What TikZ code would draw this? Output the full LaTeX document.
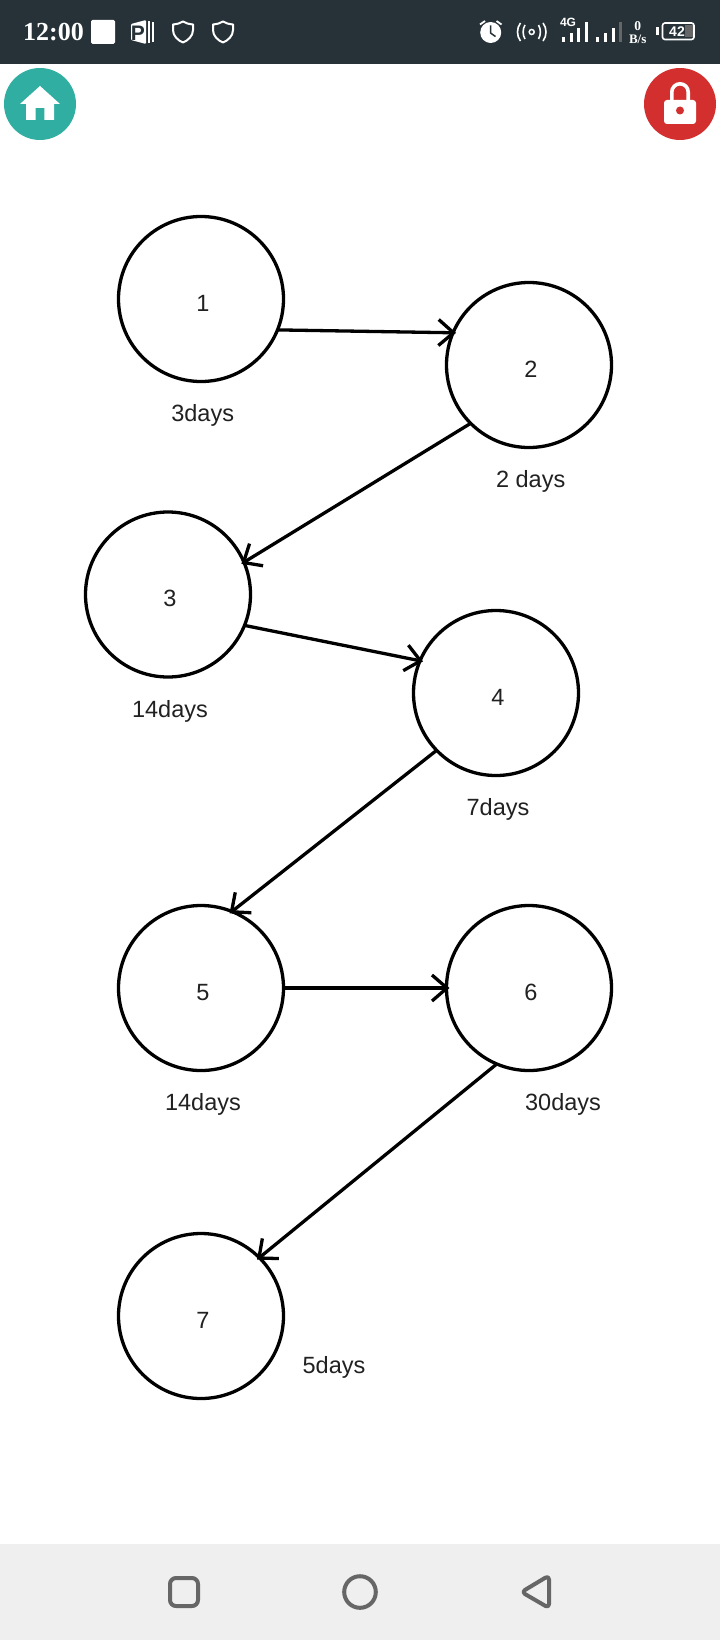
\documentclass[tikz,border=0pt]{standalone}
\usepackage{fontspec}
\usetikzlibrary{arrows.meta}
\setmainfont{Liberation Sans}
\newfontfamily\statusfont{Liberation Serif}
\definecolor{barbg}{HTML}{263238}
\definecolor{navbg}{HTML}{EFEFEF}
\definecolor{navic}{HTML}{666666}
\definecolor{teal}{HTML}{30AEA2}
\definecolor{lockred}{HTML}{D32F2F}
\definecolor{ink}{HTML}{212121}
\newcommand\circtext[1]{\raisebox{-12pt}[0pt][0pt]{\hspace{3.6pt}#1}}
\tikzset{
  x=1pt,y=-1pt,
  phase/.style={circle,draw=black,line width=3.3pt,minimum size=165pt,inner sep=0pt,outer sep=0pt,text=ink,font=\fontsize{23.5}{23.5}\selectfont},
  link/.style={draw=black,line width=3.3pt,shorten >=-3pt,-{Straight Barb[length=15pt,width=26pt,line width=3.3pt]}},
  dur/.style={anchor=base,inner sep=0pt,text=ink,font=\fontsize{23.5}{23.5}\selectfont},
  navicon/.style={draw=navic,line width=4pt,line join=round},
}
\begin{document}
\begin{tikzpicture}
\useasboundingbox (0,0) rectangle (720,1640);
\fill[white] (0,0) rectangle (720,1640);
% status bar
\fill[barbg] (0,0) rectangle (720,64);
\node[anchor=base,inner sep=0pt,text=white,font=\statusfont\bfseries\fontsize{26}{26}\selectfont] (clock) at (53.5,41) {12:00};
\fill[white,rounded corners=1.5pt] (91,20) rectangle (115,44);
% P icon
\fill[white,rounded corners=1pt] (131,24) -- (146,20) -- (146,44) -- (131,40) -- cycle;
\fill[white] (147.5,21) rectangle (150,43);
\fill[white] (151.7,22) rectangle (154,42);
\node[anchor=center,inner sep=0pt,text=barbg,font=\bfseries\fontsize{21}{21}\selectfont] (picon) at (138,33) {P};
% shields
\foreach \sx in {183,223}{
  \draw[white,line width=2pt,line join=round] (\sx,21.5) .. controls (\sx+3,23.5) and (\sx+6,24) .. (\sx+10,24.5) -- (\sx+10,30) .. controls (\sx+10,36) and (\sx+5,40.5) .. (\sx,42.5) .. controls (\sx-5,40.5) and (\sx-10,36) .. (\sx-10,30) -- (\sx-10,24.5) .. controls (\sx-6,24) and (\sx-3,23.5) .. (\sx,21.5) -- cycle;
}
% alarm
\fill[white] (490.7,32.5) circle (10.5);
\draw[barbg,line width=1.5pt] (490.5,25.5) -- (490.5,33) -- (495.5,36.5);
\draw[white,line width=1.8pt] (480,24.5) -- (485,21);
\draw[white,line width=1.8pt] (501.5,24.5) -- (496.5,21);
% hotspot
\draw[white,line width=1.5pt] (531.7,32) circle (2.5);
\draw[white,line width=1.6pt] (525,25) .. controls (522.5,29) and (522.5,35) .. (525,39);
\draw[white,line width=1.6pt] (538.5,25) .. controls (541,29) and (541,35) .. (538.5,39);
\draw[white,line width=1.6pt] (520.5,23) .. controls (516.5,28) and (516.5,36) .. (520.5,41);
\draw[white,line width=1.6pt] (543,23) .. controls (547,28) and (547,36) .. (543,41);
% signal
\node[inner sep=0pt,text=white,font=\bfseries\fontsize{12}{12}\selectfont] (net) at (568,22) {4G};
\foreach \bx/\by in {563.3/37.3,571/33.3,578.7/28.3,586.3/22.3}{\fill[white] (\bx-1.5,\by) rectangle (\bx+1.5,42.5);}
\foreach \bx/\by in {597.7/37.3,605.3/33.3,613/28.3}{\fill[white] (\bx-1.5,\by) rectangle (\bx+1.5,42.5);}
\fill[navic] (618.8,22.3) rectangle (621.8,42.5);
\node[inner sep=0pt,text=white,font=\statusfont\bfseries\fontsize{13.5}{13.5}\selectfont] (speedn) at (637.7,26.5) {0};
\node[inner sep=0pt,text=white,font=\statusfont\bfseries\fontsize{13}{13}\selectfont] (speedu) at (637.7,39) {B/s};
% battery
\fill[white] (656,27) rectangle (658.5,35);
\fill[navic] (685,25) rectangle (692.7,37.5);
\draw[white,line width=1.6pt,rounded corners=2.5pt] (662.5,23) rectangle (694,39.5);
\node[inner sep=0pt,text=white,font=\bfseries\fontsize{14}{14}\selectfont] (batt) at (677,31.5) {42};
% home button
\fill[teal] (40,104) circle (36);
\fill[white] (40,86) -- (60,104) -- (54,104) -- (54,120) -- (44.3,120) -- (44.3,108) -- (35.7,108) -- (35.7,120) -- (26,120) -- (26,104) -- (20,104) -- cycle;
% lock button
\fill[lockred] (680,104) circle (36);
\draw[white,line width=3.6pt] (671.8,101) -- (671.8,92) arc[start angle=180,end angle=360,radius=8.2] -- (688.2,101);
\fill[white,rounded corners=3pt] (664,100) rectangle (696,124);
\fill[lockred] (680,110.5) circle (4);
% nodes
\node[phase] (n1) at (201,299) {\circtext{1}};
\node[phase] (n2) at (529,365) {\circtext{2}};
\node[phase] (n3) at (168,594.5) {\circtext{3}};
\node[phase] (n4) at (496,693) {\circtext{4}};
\node[phase] (n5) at (201,988) {\circtext{5}};
\node[phase] (n6) at (529,988) {\circtext{6}};
\node[phase] (n7) at (201,1316) {\circtext{7}};
% connectors
\draw[link] (n1.-22) -- (n2.157);
\draw[link] (n2.225) -- (n3.23);
\draw[link] (n3.-22.5) -- (n4.157);
\draw[link] (n4.224.5) -- (n5.68);
\draw[link] (n5.0) -- (n6.180);
\draw[link] (n6.247) -- (n7.45);
% durations
\node[dur] (d1) at (202.7,421.7) {3days};
\node[dur] (d2) at (530.7,487.3) {2 days};
\node[dur] (d3) at (170,717) {14days};
\node[dur] (d4) at (498,815) {7days};
\node[dur] (d5) at (203,1110) {14days};
\node[dur] (d6) at (563,1110) {30days};
\node[dur] (d7) at (334,1373) {5days};
% navigation bar
\fill[navbg] (0,1544) rectangle (720,1640);
\draw[navicon,rounded corners=6pt] (170,1578) rectangle (198,1606);
\draw[navicon] (360,1592) circle (15.8);
\draw[navicon,rounded corners=4pt] (521.5,1592) -- (549,1575.5) -- (549,1608) -- cycle;
\end{tikzpicture}
\end{document}
